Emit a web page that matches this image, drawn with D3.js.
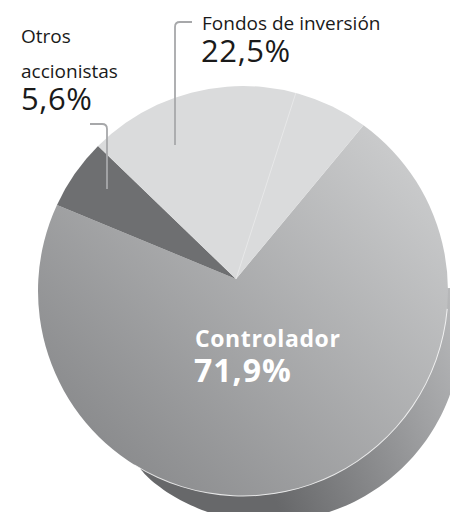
<!DOCTYPE html>
<html>
<head>
<meta charset="utf-8">
<script src="https://cdn.jsdelivr.net/npm/d3@7"></script>
<style>
  html, body { margin: 0; padding: 0; background: #ffffff; }
  svg { display: block; }
</style>
</head>
<body>
<script>
// ---- data ----
const categories = ["Controlador", "Otros accionistas", "Fondos de inversión"];
const values = [71.9, 5.6, 22.5];
const valueLabels = ["71,9%", "5,6%", "22,5%"];
const colors = ["url(#gradCtrl)", "#6e6f71", "#dadbdc"];

const W = 450, H = 512;
// disk (top face) and the apex where the slices meet (perspective view)
const dcx = 243, dcy = 291, R = 205;
const ax = 236, ay = 279;
const startDeg = 36;

const svg = d3.select("body").append("svg").attr("width", W).attr("height", H);
const defs = svg.append("defs");

const gCtrl = defs.append("linearGradient").attr("id", "gradCtrl")
  .attr("gradientUnits", "userSpaceOnUse")
  .attr("x1", 410).attr("y1", 150).attr("x2", 90).attr("y2", 470);
gCtrl.append("stop").attr("offset", 0).attr("stop-color", "#cbcccd");
gCtrl.append("stop").attr("offset", 1).attr("stop-color", "#87888a");

const gSide = defs.append("linearGradient").attr("id", "gradSide")
  .attr("gradientUnits", "userSpaceOnUse")
  .attr("x1", 150).attr("y1", 480).attr("x2", 460).attr("y2", 340);
gSide.append("stop").attr("offset", 0).attr("stop-color", "#67686a");
gSide.append("stop").attr("offset", 0.5).attr("stop-color", "#a0a1a3");
gSide.append("stop").attr("offset", 1).attr("stop-color", "#d4d5d6");

const pie = d3.pie().sort(null).value(d => d)
  .startAngle(startDeg * Math.PI / 180)
  .endAngle((startDeg + 360) * Math.PI / 180);
const arcs = pie(values);

// pie angle (clockwise from north) -> point on disk rim
const rimPt = a => [dcx + R * Math.sin(a), dcy - R * Math.cos(a)];
function slicePath(d) {
  const p = d3.path();
  const s = rimPt(d.startAngle);
  p.moveTo(ax, ay);
  p.lineTo(s[0], s[1]);
  p.arc(dcx, dcy, R, d.startAngle - Math.PI / 2, d.endAngle - Math.PI / 2, false);
  p.closePath();
  return p.toString();
}

// 3D side: thickness around the lower-right rim
const sideFrom = 88 * Math.PI / 180, sideTo = 212 * Math.PI / 180, sideMax = 27;
const sideAngles = d3.range(0, 61).map(i => sideFrom + (sideTo - sideFrom) * i / 60);
const thick = a => sideMax * Math.pow(Math.sin(Math.PI * (a - sideFrom) / (sideTo - sideFrom)), 0.8);
const side = d3.areaRadial()
  .angle(a => a)
  .innerRadius(R - 30)
  .outerRadius(a => R + thick(a))
  .curve(d3.curveCatmullRom);
svg.append("path")
  .attr("transform", `translate(${dcx},${dcy}) translate(${6},${4})`)
  .attr("d", side(sideAngles))
  .attr("fill", "url(#gradSide)");

const face = svg.append("g");
face.selectAll("path.slice").data(arcs).enter().append("path")
  .attr("class", "slice")
  .attr("d", slicePath)
  .attr("fill", (d, i) => colors[i]);

// faint internal line within Fondos slice
const fondos = arcs[2];
const midA = fondos.startAngle + (fondos.endAngle - fondos.startAngle) * 0.74;
const mp = rimPt(midA);
face.append("line")
  .attr("x1", ax).attr("y1", ay).attr("x2", mp[0]).attr("y2", mp[1])
  .attr("stroke", "#ffffff").attr("stroke-opacity", 0.45).attr("stroke-width", 0.8);

// rim highlight along lower right
const rim = d3.arc().innerRadius(R - 0.5).outerRadius(R + 0.5)
  .startAngle(95 * Math.PI / 180).endAngle(212 * Math.PI / 180);
face.append("path").attr("transform", `translate(${dcx},${dcy})`)
  .attr("d", rim()).attr("fill", "#ffffff").attr("opacity", 0.8);

// leader lines
const leader = svg.append("g").attr("fill", "none").attr("stroke", "#a7a8aa").attr("stroke-width", 1.8);
leader.append("path").attr("d", "M175,145 V27 Q175,22 180,22 H192");
leader.append("path").attr("d", "M90,124 H102 Q107,124 107,129 V189");

// labels
const font = "'Open Sans', 'Noto Sans', sans-serif";
const lbl = svg.append("g").attr("font-family", font).attr("fill", "#1a1a1a").attr("font-weight", 400);
lbl.append("text").attr("x", 202).attr("y", 30).attr("font-size", 19).text(categories[2]);
lbl.append("text").attr("x", 201).attr("y", 62).attr("font-size", 31).attr("letter-spacing", 0.6).text(valueLabels[2]);
lbl.append("text").attr("x", 21).attr("y", 43).attr("font-size", 19).text(categories[1].split(" ")[0]);
lbl.append("text").attr("x", 21).attr("y", 78).attr("font-size", 19).text(categories[1].split(" ")[1]);
lbl.append("text").attr("x", 21).attr("y", 110).attr("font-size", 31).attr("letter-spacing", 0.6).text(valueLabels[1]);

const inner = svg.append("g").attr("font-family", font).attr("fill", "#ffffff").attr("font-weight", 700);
inner.append("text").attr("x", 195).attr("y", 347).attr("font-size", 23).attr("letter-spacing", 0.6).text(categories[0]);
inner.append("text").attr("x", 194).attr("y", 382).attr("font-size", 32).attr("letter-spacing", 1).text(valueLabels[0]);
</script>
</body>
</html>
